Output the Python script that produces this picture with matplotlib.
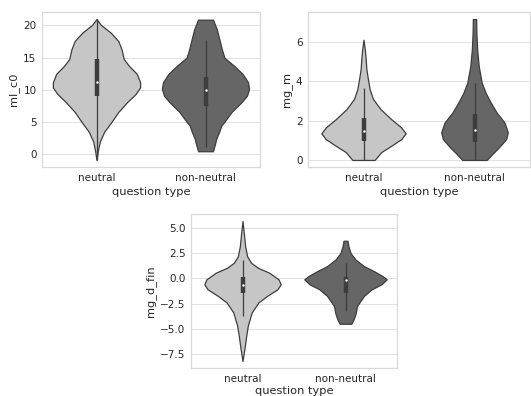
import matplotlib
matplotlib.use('Agg')
import matplotlib.pyplot as plt
import numpy as np

categories = ['neutral', 'non-neutral']
xlabel = 'question type'

# violin outlines: (value, half width) pairs
ml_c0_neutral = [(-0.85, 0.0), (0.5, 0.012), (2.0, 0.03), (3.5, 0.07), (5.0, 0.135),
                 (6.6, 0.2), (8.1, 0.28), (9.4, 0.36), (10.4, 0.40), (11.2, 0.40),
                 (12.5, 0.37), (13.7, 0.30), (14.8, 0.25), (16.3, 0.23), (17.6, 0.2),
                 (18.9, 0.13), (20.1, 0.04), (21.0, 0.0)]
ml_c0_non = [(0.5, 0.068), (1.5, 0.085), (2.5, 0.10), (3.5, 0.125), (4.5, 0.145),
             (5.0, 0.17), (6.6, 0.24), (8.1, 0.33), (9.1, 0.38), (10.2, 0.40),
             (11.2, 0.39), (12.5, 0.34), (13.7, 0.266), (15.0, 0.174), (16.3, 0.15),
             (17.8, 0.128), (19.4, 0.104), (20.9, 0.069)]

mg_m_neutral = [(0.0, 0.10), (0.4, 0.16), (0.72, 0.25), (1.06, 0.34), (1.35, 0.38),
                (1.65, 0.34), (2.07, 0.25), (2.57, 0.155), (3.1, 0.085), (3.6, 0.055),
                (4.1, 0.04), (4.6, 0.026), (5.1, 0.02), (5.6, 0.012), (6.1, 0.0)]
mg_m_non = [(0.0, 0.11), (0.3, 0.16), (0.64, 0.22), (1.06, 0.285), (1.4, 0.30),
            (1.9, 0.27), (2.4, 0.20), (2.9, 0.147), (3.41, 0.10), (3.92, 0.065),
            (4.76, 0.038), (5.6, 0.024), (6.44, 0.017), (7.15, 0.015)]

mg_d_fin_neutral = [(-8.18, 0.0), (-6.95, 0.019), (-5.97, 0.032), (-4.67, 0.052),
                    (-3.37, 0.09), (-2.39, 0.155), (-1.74, 0.24), (-1.09, 0.34),
                    (-0.6, 0.37), (-0.11, 0.35), (0.54, 0.26), (1.03, 0.15),
                    (1.52, 0.084), (2.17, 0.045), (3.14, 0.026), (4.45, 0.013), (5.65, 0.0)]
mg_d_fin_non = [(-4.5, 0.057), (-4.02, 0.08), (-3.53, 0.097), (-2.72, 0.113),
                (-1.74, 0.18), (-1.09, 0.255), (-0.6, 0.35), (-0.11, 0.40),
                (0.21, 0.36), (0.70, 0.275), (1.19, 0.18), (1.84, 0.097),
                (2.49, 0.049), (3.14, 0.029), (3.70, 0.019)]

# inner box: whisker low, q1, median, q3, whisker high
ml_c0_box = [(-0.85, 9.0, 11.3, 14.8, 21.0), (1.2, 7.5, 10.05, 11.95, 17.7)]
mg_m_box = [(0.0, 0.97, 1.48, 2.15, 3.67), (0.0, 0.92, 1.51, 2.32, 3.92)]
mg_d_fin_box = [(-3.69, -1.51, -0.70, 0.12, 1.84), (-3.2, -1.51, -0.21, 0.15, 1.52)]

colors = ['#c6c6c6', '#666666']
gray = '#3d3d3d'
lw = 0.9

plt.rcParams['font.family'] = 'DejaVu Sans'
fig = plt.figure(figsize=(5.31, 3.96), dpi=100)


def draw_panel(ax, outlines, boxes, ylabel, yticks, xpad=3):
    for i, (outline, box) in enumerate(zip(outlines, boxes)):
        coords = np.array([p[0] for p in outline])
        vals = np.array([p[1] for p in outline])
        stats = [{'coords': coords, 'vals': vals, 'mean': box[2], 'median': box[2],
                  'min': coords.min(), 'max': coords.max()}]
        parts = ax.violin(stats, positions=[i], widths=[2 * vals.max()],
                          showextrema=False)
        for body in parts['bodies']:
            body.set_facecolor(colors[i])
            body.set_edgecolor(gray)
            body.set_linewidth(lw)
            body.set_alpha(1)
        ax.vlines(i, box[0], box[4], color=gray, lw=lw, zorder=2)
        ax.vlines(i, box[1], box[3], color=gray, lw=3.2, zorder=2)
        ax.scatter([i], [box[2]], s=4.5, color='white', edgecolor=gray,
                   linewidth=0.3, zorder=3)
    ax.set_xlim(-0.5, 1.5)
    ax.set_xticks([0, 1])
    ax.set_xticklabels(categories)
    ax.set_yticks(yticks)
    ax.set_ylabel(ylabel, fontsize=8.2, color='#262626', labelpad=3)
    ax.set_xlabel(xlabel, fontsize=8.2, color='#262626', labelpad=xpad)
    ax.tick_params(length=0, labelsize=7.5, labelcolor='#262626', pad=4)
    ax.yaxis.grid(True, color='#e2e2e2', lw=0.75)
    ax.set_axisbelow(True)
    for s in ax.spines.values():
        s.set_color('#d9d9d9')
        s.set_linewidth(0.9)


ax1 = fig.add_axes([42 / 531, 1 - 167 / 396, 218 / 531, 155 / 396])
draw_panel(ax1, [ml_c0_neutral, ml_c0_non], ml_c0_box, 'ml_c0', [0, 5, 10, 15, 20])

ax2 = fig.add_axes([308 / 531, 1 - 167 / 396, 222 / 531, 155 / 396])
draw_panel(ax2, [mg_m_neutral, mg_m_non], mg_m_box, 'mg_m', [0, 2, 4, 6])

ax3 = fig.add_axes([191 / 531, 1 - 368 / 396, 206 / 531, 154 / 396])
draw_panel(ax3, [mg_d_fin_neutral, mg_d_fin_non], mg_d_fin_box, 'mg_d_fin',
           [-7.5, -5.0, -2.5, 0.0, 2.5, 5.0], xpad=1.5)
ax3.set_yticklabels(['\u22127.5', '\u22125.0', '\u22122.5', '0.0', '2.5', '5.0'])

fig.savefig('out.png', dpi=100)
